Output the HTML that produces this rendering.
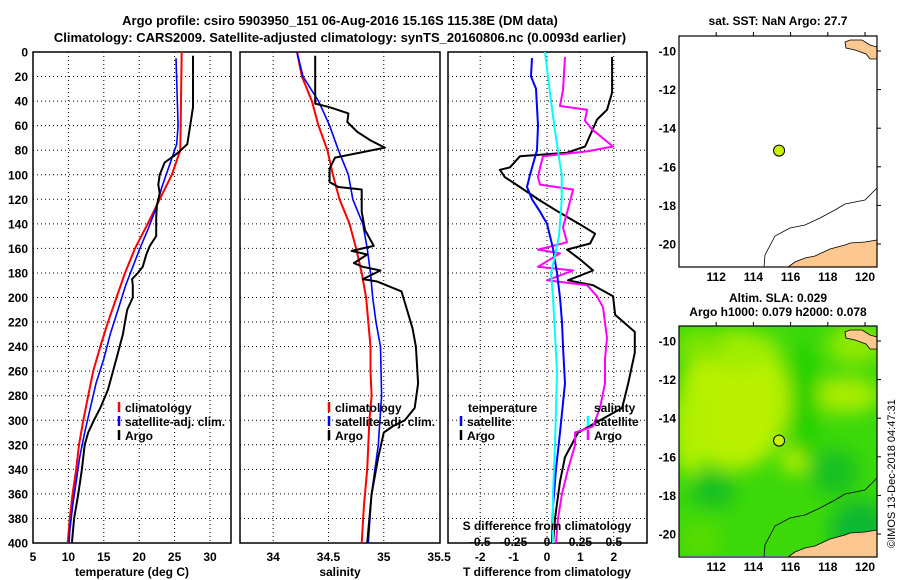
<!DOCTYPE html>
<html><head><meta charset="utf-8"><style>
body{margin:0;background:#fff}
svg{display:block;font-family:"Liberation Sans",sans-serif;font-weight:bold}
</style></head><body>
<svg id="c" width="900" height="580" viewBox="0 0 900 580" xmlns="http://www.w3.org/2000/svg">
<defs><filter id="bl" x="-50%" y="-50%" width="200%" height="200%"><feGaussianBlur stdDeviation="9"/></filter>
<clipPath id="m2clip"><rect x="679" y="326" width="198" height="230"/></clipPath></defs>
<text x="340" y="25" font-size="13" text-anchor="middle">Argo profile: csiro 5903950_151 06-Aug-2016 15.16S 115.38E (DM data)</text>
<text x="340" y="42" font-size="13" text-anchor="middle">Climatology: CARS2009. Satellite-adjusted climatology: synTS_20160806.nc (0.0093d earlier)</text>
<text x="778" y="25" font-size="12" text-anchor="middle">sat. SST: NaN Argo: 27.7</text>
<text x="778" y="302" font-size="12" text-anchor="middle">Altim. SLA: 0.029</text>
<text x="778" y="316" font-size="12" text-anchor="middle">Argo h1000: 0.079 h2000: 0.078</text>
<text font-size="11" font-weight="normal" transform="translate(895,548) rotate(-90)">©IMOS 13-Dec-2018 04:47:31</text>
<g id="g"></g>
</svg>
<script>
// depth axis
const depthTicks=[0,20,40,60,80,100,120,140,160,180,200,220,240,260,280,300,320,340,360,380,400];
// Panel 1: temperature
const tTicks=[5,10,15,20,25,30];
const climTDepth=[0,80,100,120,140,160,180,200,220,240,260,280,300,320,340,360,380,400];
const climT=[26.0,25.8,24.6,22.9,21.2,19.4,18.0,16.8,15.6,14.5,13.5,12.8,12.1,11.5,11.1,10.6,10.2,9.9];
const satTDepth=[5,60,75,90,110,130,145,160,175,190,210,230,250,270,290,310,330,350,370,390,400];
const satT=[25.2,25.5,25.3,24.4,23.2,22.2,21.2,20.1,19.1,18.1,17.0,15.9,15.0,13.9,13.1,12.3,11.6,11.1,10.6,10.2,10.1];
const argoTDepth=[3,45,60,75,82,90,100,108,115,125,135,150,158,165,175,180,185,190,200,210,220,230,245,260,275,290,300,310,320,340,360,380,400];
const argoT=[27.6,27.6,27.2,26.8,25.5,23.6,22.9,22.7,22.9,22.5,22.4,22.4,21.5,21.0,20.5,19.8,19.0,19.1,19.1,18.3,18.0,17.7,17.0,16.3,15.6,14.5,13.6,12.8,12.3,11.9,11.4,10.8,10.5];
// Panel 2: salinity
const sTicks=[34,34.5,35,35.5];
const climSDepth=[0,20,40,60,80,100,120,140,160,180,200,220,240,260,280,300,340,370,400];
const climS=[34.215,34.26,34.35,34.41,34.49,34.54,34.6,34.69,34.75,34.8,34.84,34.86,34.88,34.88,34.89,34.87,34.85,34.82,34.8];
const satSDepth=[0,20,40,60,80,100,120,140,160,180,200,220,240,280,320,360,400];
const satS=[34.215,34.27,34.41,34.51,34.59,34.68,34.72,34.81,34.85,34.88,34.90,34.93,34.97,34.98,34.95,34.89,34.86];
const argoSDepth=[3,42,45,50,57,65,72,78,86,95,106,110,112,130,145,158,162,165,172,175,178,185,187,195,210,225,240,270,290,300,305,310,330,360,380,400];
const argoS=[34.38,34.38,34.51,34.68,34.67,34.76,34.88,35.01,34.56,34.51,34.51,34.59,34.80,34.80,34.83,34.91,34.71,34.85,34.73,34.81,34.97,34.81,34.94,35.16,35.21,35.26,35.29,35.31,35.28,35.19,35.08,35.0,34.95,34.89,34.87,34.85];
// Panel 3: differences
const dTTicks=[-2,-1,0,1,2];
const dSTicks=[-0.5,-0.25,0,0.25,0.5];
const dSTickLabels=["-0.5","-0.25","0","0.25","0.5"];
const satDTDepth=[5,20,30,60,80,100,110,120,130,140,160,180,200,220,240,270,310,340,370,400];
const satDT=[-0.45,-0.48,-0.33,-0.27,-0.3,-0.51,-0.6,-0.45,-0.21,0,0.18,0.3,0.39,0.45,0.48,0.54,0.39,0.27,0.18,0.15];
const argoDTDepth=[4,33,47,55,77,82,85,94,96,102,110,121,131,142,148,156,161,169,178,186,190,199,214,228,245,270,290,300,310,330,350,380,400];
const argoDT=[1.95,1.95,1.8,1.5,1.14,0.6,-0.81,-1.11,-1.41,-1.26,-0.81,-0.21,0.39,1.08,1.44,1.29,0.6,0.99,1.38,0.63,1.38,1.98,2.04,2.63,2.63,2.43,2.25,1.59,0.93,0.54,0.39,0.24,0.18];
const satDSDepth=[0,40,70,100,120,150,170,180,200,230,260,290,320,360,400];
const satDS=[-0.015,0.03,0.067,0.11,0.11,0.09,0.052,0.03,0.045,0.06,0.075,0.067,0.06,0.045,0.045];
const argoDSDepth=[4,31,44,47,56,63,77,81,85,94,102,108,112,128,143,155,161,164,175,178,186,190,199,208,233,250,270,290,305,310,320,340,360,380,400];
const argoDS=[0.135,0.12,0.097,0.3,0.284,0.337,0.494,0.3,-0.03,-0.052,-0.067,-0.052,0.195,0.157,0.12,0.15,-0.067,0.097,-0.067,0.195,0,0.3,0.374,0.419,0.449,0.434,0.434,0.397,0.344,0.21,0.21,0.157,0.112,0.082,0.067];
// Maps
const lonTicks=[112,114,116,118,120];
const latTicks=[-10,-12,-14,-16,-18,-20];
const argoLon=115.38, argoLat=-15.16;

const NS="http://www.w3.org/2000/svg";
const G=document.getElementById('g');
function mk(tag,attrs,parent){const e=document.createElementNS(NS,tag);for(const k in attrs)e.setAttribute(k,attrs[k]);(parent||G).appendChild(e);return e;}
const Y0=52,Y1=543;
const yD=d=>Y0+(d/400)*(Y1-Y0);
function line(xs,ds,xf,color,w,name){
  const p=mk('polyline',{points:xs.map((v,i)=>xf(v).toFixed(1)+','+yD(ds[i]).toFixed(1)).join(' '),fill:'none',stroke:color,'stroke-width':w,'stroke-linejoin':'round'});
  
  
}
function panel(x0,x1,xf,ticks,labels,name,showY){
  const fr=mk('rect',{x:x0,y:Y0,width:x1-x0,height:Y1-Y0,fill:'#fff',stroke:'#000','stroke-width':1.5});
  
  
  depthTicks.forEach(d=>{
    if(d>0&&d<400)mk('line',{x1:x0,x2:x1,y1:yD(d),y2:yD(d),stroke:'#000','stroke-width':1,'stroke-dasharray':'1,3'});
    if(showY){const t=mk('text',{x:28,y:yD(d)+4.5,'font-size':12,'text-anchor':'end'});t.textContent=d;
      
      }
  });
  ticks.forEach((v,i)=>{const x=xf(v);
    if(x>x0+2&&x<x1-2)mk('line',{x1:x,x2:x,y1:Y0,y2:Y1,stroke:'#000','stroke-width':1,'stroke-dasharray':'1,3'});
    const t=mk('text',{x:x,y:561,'font-size':12,'text-anchor':'middle'});t.textContent=labels?labels[i]:v;
    
    
  });
}
const xT=v=>33+(v-5)*7.08;
const xS=v=>240+(v-33.7)*110.6;
const xDT=v=>547+v*33.4;
const xDS=v=>547+v*133.6;
panel(33,231,xT,tTicks,null,'temperature-panel',true);
panel(240,440,xS,sTicks,null,'salinity-panel',false);
panel(448,647,xDT,dTTicks,null,'difference-panel',false);
line(climT,climTDepth,xT,'#f00',2,'temperature-climatology-line');
line(satT,satTDepth,xT,'#00f',1.6,'temperature-satellite-line');
line(argoT,argoTDepth,xT,'#000',2,'temperature-argo-line');
line(climS,climSDepth,xS,'#f00',2,'salinity-climatology-line');
line(satS,satSDepth,xS,'#00f',1.6,'salinity-satellite-line');
line(argoS,argoSDepth,xS,'#000',2,'salinity-argo-line');
line(argoDT,argoDTDepth,xDT,'#000',2,'t-diff-argo-line');
line(argoDS,argoDSDepth,xDS,'#f0f',2,'s-diff-argo-line');
line(satDT,satDTDepth,xDT,'#00f',2,'t-diff-satellite-line');
line(satDS,satDSDepth,xDS,'#0ff',2,'s-diff-satellite-line');
// S axis labels inside panel 3
dSTicks.forEach((v,i)=>{const t=mk('text',{x:xDS(v),y:546,'font-size':12,'text-anchor':'middle'});t.textContent=dSTickLabels[i];
  
  });
function txt(x,y,s,name,sz,anchor){const t=mk('text',{x:x,y:y,'font-size':sz||12,'text-anchor':anchor||'start'});t.textContent=s;
  
  return t;}
txt(547,530,'S difference from climatology','s-diff-axis-title',12,'middle');
txt(132,576,'temperature (deg C)','temperature-axis-title',12,'middle');
txt(340,576,'salinity','salinity-axis-title',12,'middle');
txt(547,576,'T difference from climatology','t-diff-axis-title',12,'middle');
function leg(x,y,color,label,name){
  const b=mk('line',{x1:x,x2:x,y1:y-10,y2:y,stroke:color,'stroke-width':2.5});
  
  
  txt(x+6,y,label,name,12);
}
leg(119,412,'#f00','climatology','legend-climatology');
leg(119,426,'#00f','satellite-adj. clim.','legend-satellite');
leg(119,440,'#000','Argo','legend-argo');
leg(329,412,'#f00','climatology','legend2-climatology');
leg(329,426,'#00f','satellite-adj. clim.','legend2-satellite');
leg(329,440,'#000','Argo','legend2-argo');
txt(468,412,'temperature','legend-temperature-heading');
leg(461,426,'#00f','satellite','legend-t-satellite');
leg(461,440,'#000','Argo','legend-t-argo');
txt(594,412,'salinity','legend-salinity-heading');
leg(588,426,'#0ff','satellite','legend-s-satellite');
leg(588,440,'#f0f','Argo','legend-s-argo');
// maps
const MX0=679,MX1=877;
const mx=l=>MX0+(l-110)*18.6;
function map(top,name,filled){
  const my=la=>top+15+(-10-la)*19.3;
  const g=mk('g',{});
  
  
  mk('rect',{x:MX0,y:top,width:MX1-MX0,height:231,fill:'#fff'},g);
  if(filled){
    const h=mk('g',{'clip-path':'url(#m2clip)'},g);
    mk('rect',{x:MX0,y:top,width:198,height:231,fill:'#3cd80a'},h);
    const f=mk('g',{filter:'url(#bl)'},h);
    [[735,400,55,70,'#b8f000'],[690,430,18,45,'#b0f000'],[845,395,35,18,'#a8ec00'],[795,460,14,14,'#b8f000'],[855,345,28,20,'#90e800'],[740,350,40,18,'#a0ec00'],[700,345,25,15,'#80e400'],
     [805,400,14,60,'#22d000'],[713,490,22,18,'#18c020'],[834,472,24,22,'#18c020'],[860,530,30,30,'#10b830'],[700,540,20,20,'#58dc00']].forEach(e=>mk('ellipse',{cx:e[0],cy:e[1],rx:e[2],ry:e[3],fill:e[4]},f));
  }
  const o=top-36;
  mk('polygon',{points:[[845,42],[850,40],[862,40],[870,45],[877,47],[877,59],[870,59],[866,54],[855,50],[846,48]].map(p=>p[0]+','+(p[1]+o)).join(' '),fill:'#fdc890',stroke:'#000','stroke-width':0.8},g);
  mk('polygon',{points:[[788,267],[795,262],[805,258],[815,256],[830,249],[845,245],[850,243],[865,242],[877,240],[877,267]].map(p=>p[0]+','+(p[1]+o)).join(' '),fill:'#fdc890',stroke:'#000','stroke-width':0.8},g);
  mk('polyline',{points:[[764,267],[765,255],[775,236],[790,228],[805,225],[820,218],[835,210],[845,204],[865,200],[872,193],[877,188]].map(p=>p[0]+','+(p[1]+o)).join(' '),fill:'none',stroke:'#000','stroke-width':0.8},g);
  mk('rect',{x:MX0,y:top,width:MX1-MX0,height:231,fill:'none',stroke:'#000','stroke-width':1.2},g);
  lonTicks.forEach(l=>{mk('line',{x1:mx(l),x2:mx(l),y1:top,y2:top-4,stroke:'#000'},g);
    txt(mx(l),top+245,l,name+'-lon-label',12,'middle');});
  latTicks.forEach(la=>{mk('line',{x1:MX1,x2:MX1+4,y1:my(la),y2:my(la),stroke:'#000'},g);
    txt(676,my(la)+4.5,la,name+'-lat-label',12,'end');});
  const d=mk('circle',{cx:mx(argoLon),cy:my(argoLat),r:5.5,fill:'#c8f000',stroke:'#000','stroke-width':1},g);
  
  
}
map(36,'sst-map',false);
map(326,'sla-map',true);
</script>
</body></html>
